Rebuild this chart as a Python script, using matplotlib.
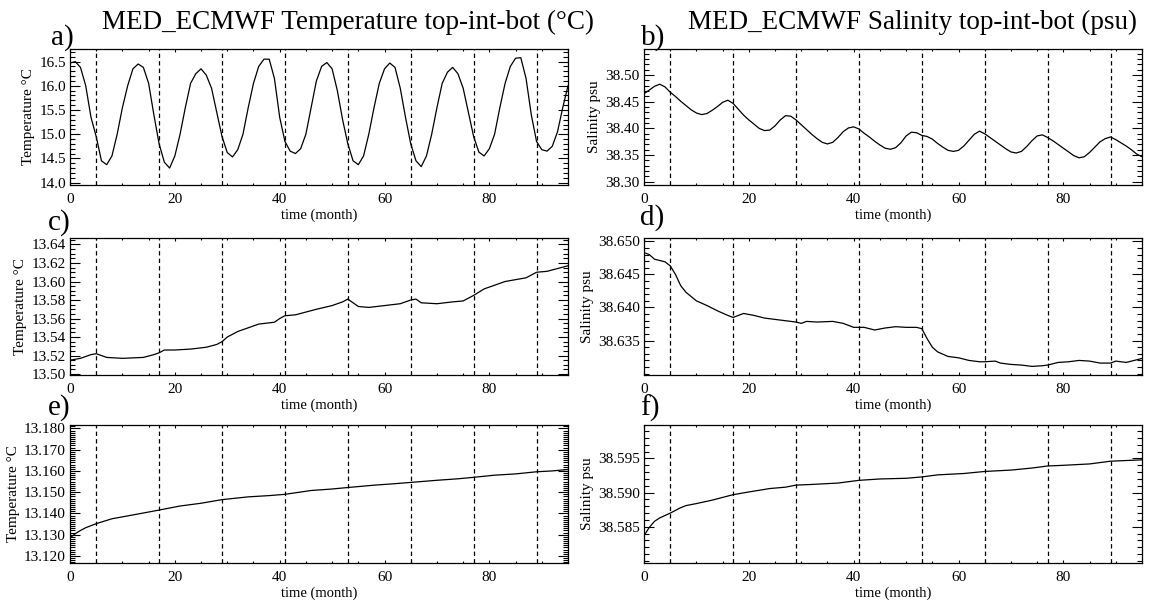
import matplotlib.pyplot as plt
from matplotlib.ticker import MultipleLocator

plt.rcParams['font.family'] = ['Liberation Serif', 'DejaVu Serif']

# eje temporal (meses) y lineas verticales discontinuas
months = list(range(96))
year_marks = [5, 17, 29, 41, 53, 65, 77, 89]
xticks = [0, 20, 40, 60, 80]

# a) temperatura superficie (mensual)
temp_top = [16.47, 16.50, 16.38, 16.00, 15.35, 14.95, 14.45, 14.37, 14.55, 15.00, 15.55, 16.00,
            16.35, 16.45, 16.38, 16.05, 15.40, 14.80, 14.42, 14.30, 14.55, 15.00, 15.55, 16.05,
            16.25, 16.35, 16.22, 15.95, 15.45, 14.95, 14.62, 14.53, 14.68, 15.00, 15.55, 16.05,
            16.40, 16.55, 16.55, 16.15, 15.35, 14.85, 14.65, 14.60, 14.70, 15.00, 15.55, 16.10,
            16.40, 16.48, 16.35, 15.90, 15.30, 14.80, 14.45, 14.37, 14.55, 15.00, 15.55, 16.05,
            16.35, 16.47, 16.38, 15.95, 15.35, 14.80, 14.45, 14.33, 14.55, 15.00, 15.55, 16.05,
            16.28, 16.38, 16.25, 15.95, 15.45, 14.95, 14.63, 14.55, 14.70, 15.00, 15.55, 16.05,
            16.40, 16.57, 16.58, 16.15, 15.40, 14.85, 14.68, 14.65, 14.75, 15.05, 15.55, 16.00]

# b) salinidad superficie (mensual)
sal_top = [38.465, 38.472, 38.479, 38.483, 38.478, 38.468, 38.460, 38.451, 38.443, 38.435, 38.429, 38.426,
           38.428, 38.434, 38.441, 38.449, 38.453, 38.447, 38.436, 38.425, 38.416, 38.408, 38.400, 38.396,
           38.397, 38.405, 38.416, 38.424, 38.423, 38.416, 38.407, 38.398, 38.389, 38.381, 38.374, 38.371,
           38.374, 38.383, 38.394, 38.401, 38.403, 38.399, 38.391, 38.384, 38.376, 38.369, 38.363, 38.361,
           38.364, 38.373, 38.386, 38.393, 38.392, 38.387, 38.385, 38.380, 38.372, 38.365, 38.359, 38.357,
           38.359, 38.367, 38.378, 38.389, 38.395, 38.390, 38.383, 38.376, 38.369, 38.362, 38.356, 38.354,
           38.357, 38.366, 38.377, 38.386, 38.388, 38.383, 38.377, 38.370, 38.363, 38.356, 38.349, 38.345,
           38.347, 38.355, 38.365, 38.375, 38.381, 38.384, 38.379, 38.373, 38.367, 38.360, 38.352, 38.347]

# c) temperatura intermedia
temp_int_t = [0, 2, 4, 5, 7, 10, 14, 16, 17, 18, 20, 23, 26, 28, 29, 30, 32, 34, 36, 39,
              40, 41, 43, 45, 47, 50, 52, 53, 54, 55, 57, 60, 63, 65, 66, 67, 70, 73, 75, 77,
              79, 81, 83, 85, 87, 89, 91, 93, 95]
temp_int = [13.515, 13.517, 13.521, 13.522, 13.518, 13.517, 13.518, 13.521, 13.523, 13.526,
            13.526, 13.527, 13.529, 13.532, 13.535, 13.540, 13.546, 13.550, 13.554, 13.556,
            13.560, 13.563, 13.564, 13.567, 13.570, 13.574, 13.578, 13.581, 13.577, 13.573,
            13.572, 13.574, 13.576, 13.580, 13.581, 13.577, 13.576, 13.578, 13.579, 13.585,
            13.592, 13.596, 13.600, 13.602, 13.604, 13.610, 13.611, 13.614, 13.617]

# d) salinidad intermedia
sal_int_t = [0, 1, 2, 4, 5, 6, 7, 8, 10, 12, 14, 16, 17, 18, 19, 21, 23, 26, 28, 29,
             30, 31, 33, 36, 38, 40, 42, 44, 46, 48, 50, 52, 53, 54, 55, 56, 58, 60, 62, 64,
             65, 67, 68, 70, 72, 74, 76, 77, 79, 81, 83, 85, 87, 89, 90, 92, 95]
sal_int = [38.6483, 38.6480, 38.6473, 38.6469, 38.6463, 38.6450, 38.6433, 38.6423, 38.6410, 38.6403,
           38.6395, 38.6388, 38.6385, 38.6388, 38.6391, 38.6388, 38.6384, 38.6381, 38.6379, 38.6378,
           38.6376, 38.6379, 38.6378, 38.6379, 38.6376, 38.6370, 38.6370, 38.6366, 38.6369, 38.6371,
           38.6370, 38.6370, 38.6368, 38.6353, 38.6340, 38.6333, 38.6326, 38.6324, 38.6320, 38.6318,
           38.6318, 38.6319, 38.6316, 38.6314, 38.6313, 38.6311, 38.6312, 38.6313, 38.6317, 38.6318,
           38.6320, 38.6319, 38.6316, 38.6316, 38.6319, 38.6317, 38.6323]

# e) temperatura fondo
temp_bot_t = [0, 1, 2, 3, 5, 8, 12, 17, 21, 25, 29, 34, 38, 41, 46, 50, 53, 58, 62, 65,
              70, 74, 77, 81, 85, 89, 92, 95]
temp_bot = [13.1285, 13.1305, 13.1320, 13.1333, 13.1352, 13.1375, 13.1393, 13.1416, 13.1435, 13.1448,
            13.1465, 13.1478, 13.1484, 13.1490, 13.1508, 13.1515, 13.1522, 13.1533, 13.1540, 13.1546,
            13.1556, 13.1563, 13.1570, 13.1580, 13.1586, 13.1596, 13.1600, 13.1607]

# f) salinidad fondo
sal_bot_t = [0, 1, 2, 3, 5, 7, 8, 10, 13, 15, 17, 20, 24, 27, 29, 32, 37, 41, 45, 50,
             53, 56, 61, 65, 70, 74, 77, 80, 85, 89, 95]
sal_bot = [38.5837, 38.5849, 38.5858, 38.5863, 38.5870, 38.5878, 38.5881, 38.5884, 38.5889, 38.5893,
           38.5897, 38.5901, 38.5906, 38.5908, 38.5911, 38.5912, 38.5914, 38.5918, 38.5920, 38.5921,
           38.5923, 38.5926, 38.5928, 38.5931, 38.5933, 38.5936, 38.5939, 38.5940, 38.5942, 38.5946,
           38.5948]

# etiquetas del eje y de cada panel
yticks_a = ['14.0', '14.5', '15.0', '15.5', '16.0', '16.5']
yticks_b = ['38.30', '38.35', '38.40', '38.45', '38.50']
yticks_c = ['13.50', '13.52', '13.54', '13.56', '13.58', '13.60', '13.62', '13.64']
yticks_d = ['38.635', '38.640', '38.645', '38.650']
yticks_e = ['13.120', '13.130', '13.140', '13.150', '13.160', '13.170', '13.180']
yticks_f = ['38.585', '38.590', '38.595']

W, H = 1151, 604
fig = plt.figure(figsize=(W / 100, H / 100), dpi=100)


def panel(left, top, bottom, right):
    return fig.add_axes([left / W, 1 - bottom / H, (right - left) / W, (bottom - top) / H])


def style(ax, x, y, ylim, labels, minor, ylabel):
    ax.plot(x, y, color='black', lw=0.9)
    for m in year_marks:
        ax.axvline(m, color='black', lw=0.9, ls=(0, (3.5, 2.5)))
    ax.set_xlim(0, 95)
    ax.set_ylim(*ylim)
    ax.set_xticks(xticks)
    ax.xaxis.set_minor_locator(MultipleLocator(5))
    ax.set_yticks([float(v) for v in labels])
    ax.set_yticklabels(labels)
    ax.yaxis.set_minor_locator(MultipleLocator(minor))
    ax.tick_params(which='both', direction='in', top=True, right=True, labelsize=11)
    ax.tick_params(axis='y', which='major', length=7, width=0.8, pad=3)
    ax.tick_params(axis='y', which='minor', length=3.5, width=0.8)
    ax.tick_params(axis='x', which='major', length=2.5, width=0.8, pad=6)
    ax.tick_params(axis='x', which='minor', length=1.3, width=0.8)
    ax.set_xlabel('time (month)', fontsize=10.5, labelpad=1.5)
    ax.set_ylabel(ylabel, fontsize=11, labelpad=3)
    for s in ax.spines.values():
        s.set_linewidth(0.9)


L0, L1 = 70, 568
R0, R1 = 644, 1142
rows = [(49, 185), (238, 375), (425, 563)]

ax_a = panel(L0, rows[0][0], rows[0][1], L1)
style(ax_a, months, temp_top, (13.95, 16.76), yticks_a, 0.1, 'Temperature °C')
ax_b = panel(R0, rows[0][0], rows[0][1], R1)
style(ax_b, months, sal_top, (38.294, 38.549), yticks_b, 0.01, 'Salinity psu')
ax_c = panel(L0, rows[1][0], rows[1][1], L1)
style(ax_c, temp_int_t, temp_int, (13.499, 13.647), yticks_c, 0.005, 'Temperature °C')
ax_d = panel(R0, rows[1][0], rows[1][1], R1)
style(ax_d, sal_int_t, sal_int, (38.6298, 38.6505), yticks_d, 0.001, 'Salinity psu')
ax_e = panel(L0, rows[2][0], rows[2][1], L1)
style(ax_e, temp_bot_t, temp_bot, (13.1167, 13.1816), yticks_e, 0.001, 'Temperature °C')
ax_f = panel(R0, rows[2][0], rows[2][1], R1)
style(ax_f, sal_bot_t, sal_bot, (38.5797, 38.5999), yticks_f, 0.001, 'Salinity psu')

# titulos de columna
fig.text(348 / W, 1 - 22 / H, 'MED_ECMWF Temperature top-int-bot (°C)', ha='center', va='center', fontsize=19.5)
fig.text(913 / W, 1 - 22 / H, 'MED_ECMWF Salinity top-int-bot (psu)', ha='center', va='center', fontsize=19.5)

# letras de los paneles
letters = [('a)', 51, 38), ('b)', 641, 38), ('c)', 48, 223), ('d)', 640, 218),
           ('e)', 48, 408), ('f)', 640, 408)]
for txt, x, y in letters:
    fig.text(x / W, 1 - y / H, txt, ha='left', va='center', fontsize=21)

fig.savefig('out.png', dpi=100)
